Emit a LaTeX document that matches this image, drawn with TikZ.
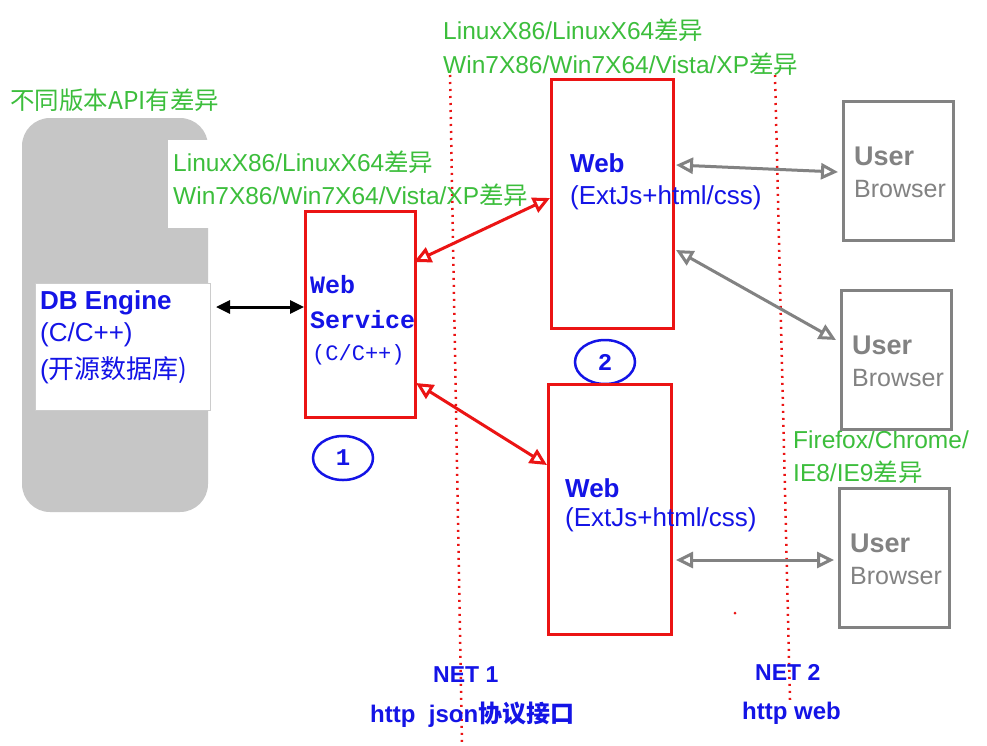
\documentclass[tikz,border=0pt]{standalone}
\usepackage{fontspec}
\setmainfont{Liberation Sans}
\newfontfamily\cjk{Noto Sans CJK SC}
\newfontfamily\mono{Liberation Mono}
\usetikzlibrary{arrows.meta,shapes.geometric}
\definecolor{grn}{RGB}{60,190,60}
\definecolor{bl}{RGB}{20,20,230}
\definecolor{gr}{RGB}{130,130,130}
\definecolor{rd}{RGB}{235,20,20}
\tikzset{
 gtxt/.style={text=grn,anchor=west,font=\fontsize{24.5}{26}\selectfont,inner sep=0},
 btxt/.style={text=bl,anchor=west,font=\fontsize{26}{28}\selectfont,inner sep=0},
 redbox/.style={draw=rd,line width=3pt},
 usr/.style={draw=gr,line width=3pt},
 ra/.style={draw=rd,line width=3pt,{Triangle[open,length=17pt,width=16pt]}-{Triangle[open,length=17pt,width=16pt]}},
 ga/.style={draw=gr,line width=3pt,{Triangle[open,length=17pt,width=16pt]}-{Triangle[open,length=17pt,width=16pt]}},
 circ/.style={draw=bl,line width=2.5pt,ellipse,minimum width=60pt,minimum height=44pt,font=\fontsize{24}{26}\selectfont\bfseries\mono,text=bl},
 dots/.style={draw=rd,line width=2.5pt,dash pattern=on 2pt off 5pt},
}
\begin{document}
\begin{tikzpicture}[x=1pt,y=-1pt]
\useasboundingbox[fill=white] (0,0) rectangle (987,745);
% DB block
\fill[gray!45,rounded corners=28pt] (22,118) rectangle (208,512);
\fill[white] (168,140) rectangle (212,228);
\draw[gray!40,fill=white] (35,283) rectangle (210,410);
\node[gtxt] (api) at (10,100) {\cjk 不同版本API有差异};
\node[btxt,font=\fontsize{26}{28}\selectfont\bfseries] (db) at (40,303) {DB Engine};
\node[btxt] (dbc) at (40,335) {(C/C++)};
\node[btxt] (dbo) at (40,370) {(\cjk 开源数据库)};
\coordinate (dbr) at (216,307);
% Web service
\node[redbox,minimum width=110pt,minimum height=206pt,anchor=north west] (ws) at (304,210) {};
\node[text=bl,anchor=west,font=\fontsize{25}{26}\selectfont\bfseries\mono,inner sep=0] (wst1) at (310,285) {Web};
\node[text=bl,anchor=west,font=\fontsize{25}{26}\selectfont\bfseries\mono,inner sep=0] (wst2) at (310,320) {Service};
\node[text=bl,anchor=west,font=\fontsize{22}{24}\selectfont\mono,inner sep=0] (wst3) at (312,355) {(C/C++)};
\draw[line width=3pt,{Triangle[length=14pt,width=13pt]}-{Triangle[length=14pt,width=13pt]}] (dbr) -- (ws.west|-dbr);
\node[circ] (c1) at (343,458) {1};
% Web boxes
\node[redbox,minimum width=122pt,minimum height=249pt,anchor=north west] (w1) at (550,78) {};
\node[btxt,font=\fontsize{26}{28}\selectfont\bfseries] (w1a) at (570,163) {Web};
\node[btxt] (w1b) at (570,198) {(ExtJs+html/css)};
\node[circ] (c2) at (605,362) {2};
\node[redbox,minimum width=123pt,minimum height=250pt,anchor=north west] (w2) at (547,383) {};
\node[btxt,font=\fontsize{26}{28}\selectfont\bfseries] (w2a) at (565,488) {Web};
\node[btxt] (w2b) at (565,520) {(ExtJs+html/css)};
\coordinate (ws1) at (414,262); \coordinate (w1l) at (550,198);
\coordinate (ws2) at (416,383); \coordinate (w2l) at (547,465);
\draw[ra] (ws1) -- (w1l);
\draw[ra] (ws2) -- (w2l);
% dotted lines
\coordinate (d1a) at (450,75); \coordinate (d1b) at (462,745);
\coordinate (d2a) at (775,75); \coordinate (d2b) at (790,700);
\draw[dots] (d1a) -- (d1b);
\draw[dots] (d2a) -- (d2b);
\fill[rd] (735,613) circle (1.5pt);
% green texts
\node[gtxt] (t1) at (443,30) {LinuxX86/LinuxX64\cjk 差异};
\node[gtxt] (t2) at (443,64) {Win7X86/Win7X64/Vista/XP\cjk 差异};
\node[gtxt] (t3) at (173,162) {LinuxX86/LinuxX64\cjk 差异};
\node[gtxt] (t4) at (173,195) {Win7X86/Win7X64/Vista/XP\cjk 差异};
\node[gtxt] (t5) at (793,440) {Firefox/Chrome/};
\node[gtxt] (t6) at (793,472) {IE8/IE9\cjk 差异};
% users
\foreach \n/\x/\y in {u1/842/100,u2/840/289,u3/838/487}{
 \node[usr,minimum width=110pt,minimum height=139pt,anchor=north west] (\n) at (\x,\y) {};
 \node[text=gr,anchor=west,inner sep=0,font=\fontsize{27}{28}\selectfont\bfseries] (\n a) at (\x+12,\y+56) {User};
 \node[text=gr,anchor=west,inner sep=0,font=\fontsize{25}{28}\selectfont] (\n b) at (\x+12,\y+89) {Browser};
}
\coordinate (a1) at (676,165); \coordinate (b1) at (838,172);
\coordinate (a2) at (676,250); \coordinate (b2) at (836,340);
\coordinate (a3) at (676,560); \coordinate (b3) at (834,560);
\draw[ga] (a1) -- (b1);
\draw[ga] (a2) -- (b2);
\draw[ga] (a3) -- (b3);
% bottom labels
\node[btxt,font=\fontsize{23}{26}\selectfont\bfseries] (n1) at (433,675) {NET 1};
\node[btxt,font=\fontsize{24}{26}\selectfont\bfseries] (n1b) at (370,715) {http\ \ json{\cjk 协议接口}};
\node[btxt,font=\fontsize{23}{26}\selectfont\bfseries] (n2) at (755,672) {NET 2};
\node[btxt,font=\fontsize{24}{26}\selectfont\bfseries] (n2b) at (742,713) {http web};
\end{tikzpicture}
\end{document}
